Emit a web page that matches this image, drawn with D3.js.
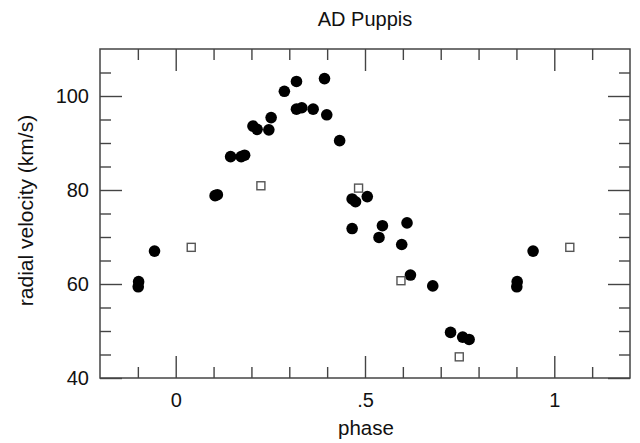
<!DOCTYPE html>
<html>
<head>
<meta charset="utf-8">
<script src="https://cdn.jsdelivr.net/npm/d3@7"></script>
<style>
    body { margin: 0; background: #fff; }
    svg text { font-family: "Liberation Sans", Arial, Helvetica, sans-serif; fill: #111; }
</style>
</head>
<body>
<div id="chart"></div>
<script>
// radial velocity measurements, phase in [0, 1)
const filledPhase = [0.902, 0.901, 0.944, 0.104, 0.110, 0.145, 0.173, 0.182, 0.204, 0.215,
    0.246, 0.252, 0.287, 0.319, 0.319, 0.333, 0.363, 0.393, 0.399, 0.433,
    0.466, 0.475, 0.506, 0.466, 0.546, 0.537, 0.611, 0.597, 0.620, 0.679,
    0.726, 0.758, 0.775];
const filledVelocity = [60.5, 59.4, 67.0, 78.8, 79.0, 87.1, 87.1, 87.4, 93.6, 92.9,
    92.8, 95.4, 101.0, 103.1, 97.2, 97.5, 97.2, 103.7, 96.0, 90.5,
    78.1, 77.5, 78.6, 71.8, 72.4, 69.9, 73.0, 68.4, 61.9, 59.6,
    49.7, 48.7, 48.2];

const openPhase = [0.041, 0.225, 0.483, 0.595, 0.749];
const openVelocity = [67.8, 80.9, 80.4, 60.7, 44.5];

const xMajorTicks = [0, 0.5, 1];
const xMinorTicks = [-0.1, 0.1, 0.2, 0.3, 0.4, 0.6, 0.7, 0.8, 0.9, 1.1];
const yMajorTicks = [40, 60, 80, 100];
const yMinorTicks = [45, 50, 55, 65, 70, 75, 85, 90, 95, 105];

const xDomain = [-0.2, 1.2];
const yDomain = [40, 110];
const repeatWindow = [-0.1, 1.1];

// phases are drawn again one cycle earlier / later when they fall in the window
function unfold(phases, values) {
    let out = [];
    phases.forEach((p, i) => {
        [p - 1, p, p + 1].forEach(q => {
            if (q >= repeatWindow[0] && q <= repeatWindow[1]) out.push({phase: q, v: values[i]});
        });
    });
    return out;
}

const width = 640, height = 443;
const margin = {top: 49, right: 10, bottom: 65, left: 100};
const plotW = width - margin.left - margin.right;
const plotH = height - margin.top - margin.bottom;

const svg = d3.select("#chart").append("svg")
    .attr("width", width)
    .attr("height", height);

const g = svg.append("g")
    .attr("transform", `translate(${margin.left}, ${margin.top})`);

const x = d3.scaleLinear().domain(xDomain).range([0, plotW]);
const y = d3.scaleLinear().domain(yDomain).range([plotH, 0]);

const fmtX = d => d === 0.5 ? ".5" : d3.format("d")(d);

function styleAxis(sel) {
    sel.select(".domain").remove();
    sel.selectAll("line").attr("stroke", "#444").attr("stroke-width", 1.4);
    sel.selectAll("text").style("font-size", "20px").attr("fill", "#111");
}

// bottom
g.append("g").attr("transform", `translate(0, ${plotH})`)
    .call(d3.axisBottom(x).tickValues(xMajorTicks).tickFormat(fmtX).tickSize(-22).tickPadding(15))
    .call(styleAxis);
g.append("g").attr("transform", `translate(0, ${plotH})`)
    .call(d3.axisBottom(x).tickValues(xMinorTicks).tickFormat("").tickSize(-11))
    .call(styleAxis);
// top
g.append("g")
    .call(d3.axisTop(x).tickValues(xMajorTicks).tickFormat("").tickSize(-22))
    .call(styleAxis);
g.append("g")
    .call(d3.axisTop(x).tickValues(xMinorTicks).tickFormat("").tickSize(-11))
    .call(styleAxis);
// left
g.append("g")
    .call(d3.axisLeft(y).tickValues(yMajorTicks).tickFormat(d3.format("d")).tickSize(-22).tickPadding(11))
    .call(styleAxis);
g.append("g")
    .call(d3.axisLeft(y).tickValues(yMinorTicks).tickFormat("").tickSize(-11))
    .call(styleAxis);
// right
g.append("g").attr("transform", `translate(${plotW}, 0)`)
    .call(d3.axisRight(y).tickValues(yMajorTicks).tickFormat("").tickSize(-22))
    .call(styleAxis);
g.append("g").attr("transform", `translate(${plotW}, 0)`)
    .call(d3.axisRight(y).tickValues(yMinorTicks).tickFormat("").tickSize(-11))
    .call(styleAxis);

g.append("rect")
    .attr("width", plotW)
    .attr("height", plotH)
    .attr("fill", "none")
    .attr("stroke", "#444")
    .attr("stroke-width", 1.5);

// points
g.selectAll("circle.filled")
    .data(unfold(filledPhase, filledVelocity))
    .join("circle")
    .attr("class", "filled")
    .attr("cx", d => x(d.phase))
    .attr("cy", d => y(d.v))
    .attr("r", 5.8)
    .attr("fill", "#000");

const sq = 8;
g.selectAll("rect.open")
    .data(unfold(openPhase, openVelocity))
    .join("rect")
    .attr("class", "open")
    .attr("x", d => x(d.phase) - sq / 2)
    .attr("y", d => y(d.v) - sq / 2)
    .attr("width", sq)
    .attr("height", sq)
    .attr("fill", "#fff")
    .attr("stroke", "#555")
    .attr("stroke-width", 1.4);

// labels
svg.append("text")
    .attr("x", margin.left + plotW / 2)
    .attr("y", 26)
    .attr("text-anchor", "middle")
    .style("font-size", "20px")
    .text("AD Puppis");

svg.append("text")
    .attr("x", margin.left + plotW / 2 + 1)
    .attr("y", 435)
    .attr("text-anchor", "middle")
    .style("font-size", "20.5px")
    .text("phase");

svg.append("text")
    .attr("transform", `translate(33, ${margin.top + plotH / 2 - 3}) rotate(-90)`)
    .attr("text-anchor", "middle")
    .style("font-size", "21px")
    .text("radial velocity (km/s)");
</script>
</body>
</html>
